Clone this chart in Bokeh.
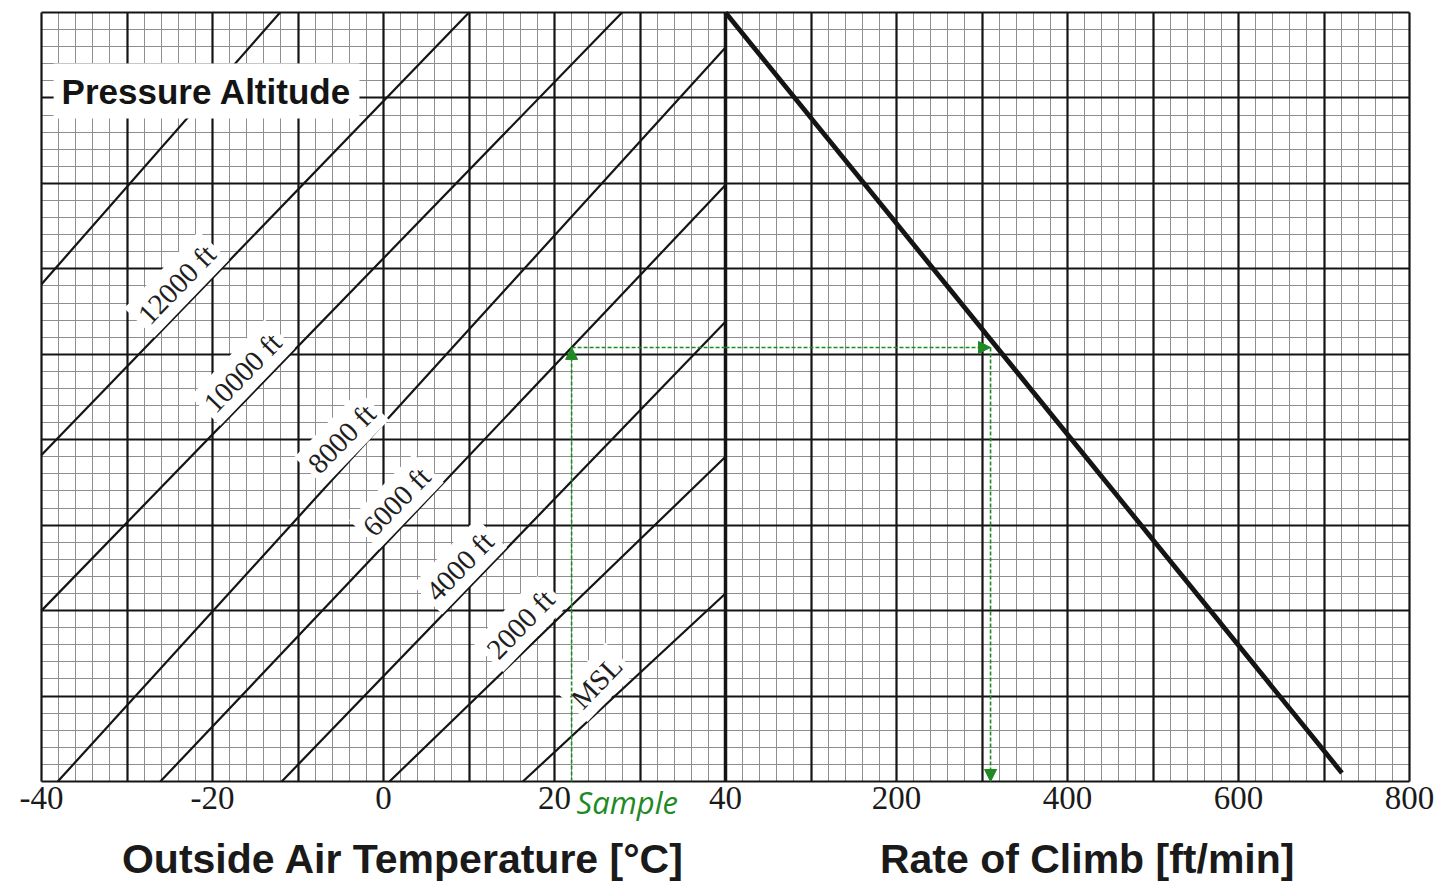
from bokeh.plotting import figure
from bokeh.models import Range1d, FixedTicker, Grid, Label, Arrow, NormalHead
from bokeh.embed import file_html
from bokeh.resources import INLINE

# ---------------- data ----------------
# Pressure-altitude lines: temperature [°C] vs. chart row (0..9, unlabeled vertical scale)
alt_names = ["14000 ft", "12000 ft", "10000 ft", "8000 ft", "6000 ft", "4000 ft", "2000 ft", "MSL"]
alt_show_label = [False, True, True, True, True, True, True, True]
alt_t0 = [-40.0, -40.0, -40.0, -38.1, -26.1, -11.9, 0.7, 16.3]
alt_r0 = [5.82, 3.82, 2.00, 0.00, 0.00, 0.00, 0.00, 0.00]
alt_t1 = [-12.1, 10.0, 27.9, 40.0, 40.0, 40.0, 40.0, 40.0]
alt_r1 = [9.00, 9.00, 9.00, 8.59, 6.98, 5.38, 3.80, 2.20]

# Rate-of-climb reference line (ft/min vs. row)
roc_line_roc = [0, 721]
roc_line_row = [9.0, 0.1]

# Worked sample
sample_temp = 22.0
sample_row = 5.08
sample_roc = 310.0

temp_ticks = [-40, -20, 0, 20, 40]
roc_ticks = [200, 400, 600, 800]
n_rows = 9

# ---------------- layout / style ----------------
W, H = 1439, 881
CH_L, CH_R, CH_T, CH_B = 41, 1409, 12, 781          # chart box in pixels
t_lo, t_hi = temp_ticks[0], temp_ticks[-1] + roc_ticks[-1] / 10.0   # -40 .. 120 (shared scale)
u_per_px = (t_hi - t_lo) / (CH_R - CH_L)
r_per_px = n_rows / (CH_B - CH_T)
x_start = t_lo - CH_L * u_per_px
x_end = t_hi + (W - CH_R) * u_per_px
y_start = -(H - CH_B) * r_per_px
y_end = n_rows + CH_T * r_per_px

GREEN = "#1f8a24"
INK = "#141414"
MINOR = "#8e8e8e"
label_temps = [None, -24.2, -16.5, -4.9, 1.5, 8.9, 16.0, 24.9]  # where each label sits along its line

p = figure(width=W, height=H,
           x_range=Range1d(x_start, x_end), y_range=Range1d(y_start, y_end),
           output_backend="svg", toolbar_location=None,
           x_axis_location=None, y_axis_location=None,
           min_border=0)
p.title.visible = False
p.background_fill_color = "white"
p.border_fill_color = "white"
p.outline_line_color = None
p.extra_x_ranges = {"roc": Range1d((x_start - temp_ticks[-1]) * 10, (x_end - temp_ticks[-1]) * 10)}

p.center = [r for r in p.center if not isinstance(r, Grid)]

temp_major = list(range(-40, 40, 10))
temp_minor = [t for t in range(-38, 40, 2) if t % 10 != 0]
roc_major = list(range(100, 900, 100))
roc_minor = [r for r in range(20, 800, 20) if r % 100 != 0]
row_major = list(range(0, n_rows + 1))
row_minor = [i / 5 for i in range(1, n_rows * 5) if i % 5 != 0]

ybounds = (0, n_rows)
xbounds = (t_lo, t_hi)
specs = [(0, temp_minor, "default", ybounds), (0, roc_minor, "roc", ybounds), (1, row_minor, "default", xbounds)]
for dim, ticks, rname, cb in specs:
    g = Grid(dimension=dim, ticker=FixedTicker(ticks=[], minor_ticks=ticks),
             grid_line_color=None, minor_grid_line_color=MINOR, minor_grid_line_width=1,
             cross_bounds=cb, x_range_name=rname)
    p.add_layout(g)
specs = [(0, temp_major, "default", ybounds), (0, roc_major, "roc", ybounds), (1, row_major, "default", xbounds)]
for dim, ticks, rname, cb in specs:
    g = Grid(dimension=dim, ticker=FixedTicker(ticks=ticks),
             grid_line_color=INK, grid_line_width=2.2, minor_grid_line_color=None,
             cross_bounds=cb, x_range_name=rname)
    p.add_layout(g)

# altitude lines
p.segment(x0=alt_t0, y0=alt_r0, x1=alt_t1, y1=alt_r1, line_color=INK, line_width=2.2)
# panel divider at 40 °C
p.segment(x0=[temp_ticks[-1]], y0=[0], x1=[temp_ticks[-1]], y1=[n_rows], line_color=INK, line_width=3.5)
# rate of climb line
p.line(roc_line_roc, roc_line_row, x_range_name="roc", line_color=INK, line_width=4.8)

# altitude labels
for i, name in enumerate(alt_names):
    if not alt_show_label[i]:
        continue
    t = label_temps[i]
    r = alt_r0[i] + (t - alt_t0[i]) * (alt_r1[i] - alt_r0[i]) / (alt_t1[i] - alt_t0[i])
    p.add_layout(Label(x=t, y=r, y_offset=31, text=name, angle=46, angle_units="deg",
                       text_align="center", text_baseline="middle",
                       text_font="Liberation Serif", text_font_size="29px", text_color="#1e1e1e",
                       background_fill_color="white", padding=5))

p.add_layout(Label(x=-20.7, y=8.08, text="Pressure Altitude", text_align="center",
                   text_baseline="middle", text_font="Liberation Sans", text_font_style="bold",
                   text_font_size="35px", text_color=INK,
                   background_fill_color="white", padding=8))

# sample path
def head():
    return NormalHead(size=12, fill_color=GREEN, line_color=GREEN)

p.add_layout(Arrow(x_start=sample_temp, y_start=0, x_end=sample_temp, y_end=sample_row,
                   line_color=GREEN, line_width=1.6, line_dash="4 2", end=head()))
p.segment(x0=[sample_temp], y0=[sample_row], x1=[temp_ticks[-1]], y1=[sample_row],
          line_color=GREEN, line_width=1.6, line_dash="4 2")
p.add_layout(Arrow(x_start=0, y_start=sample_row, x_end=sample_roc, y_end=sample_row,
                   x_range_name="roc", line_color=GREEN, line_width=1.6, line_dash="4 2", end=head()))
p.add_layout(Arrow(x_start=sample_roc, y_start=sample_row, x_end=sample_roc, y_end=0,
                   x_range_name="roc", line_color=GREEN, line_width=1.6, line_dash="4 2", end=head()))

# tick labels
for t in temp_ticks:
    p.add_layout(Label(x=t, y=0, y_offset=-5, text=str(t), text_align="center", text_baseline="top",
                       text_font="Liberation Serif", text_font_size="33px", text_color="#1a1a1a"))
for r in roc_ticks:
    p.add_layout(Label(x=r, y=0, x_range_name="roc", y_offset=-5, text=str(r),
                       text_align="center", text_baseline="top",
                       text_font="Liberation Serif", text_font_size="33px", text_color="#1a1a1a"))

p.add_layout(Label(x=sample_temp, y=0, x_offset=5, y_offset=1, text="Sample",
                   text_align="left", text_baseline="top",
                   text_font="Open Sans", text_font_style="italic", text_font_size="31px",
                   text_color=GREEN))

# axis titles
p.add_layout(Label(x=2.3, y=0, y_offset=-54, text="Outside Air Temperature [°C]",
                   text_align="center", text_baseline="top",
                   text_font="Liberation Sans", text_font_style="bold", text_font_size="41px",
                   text_color="#1a1a1a"))
p.add_layout(Label(x=423, y=0, x_range_name="roc", y_offset=-54, text="Rate of Climb [ft/min]",
                   text_align="center", text_baseline="top",
                   text_font="Liberation Sans", text_font_style="bold", text_font_size="41px",
                   text_color="#1a1a1a"))

open("out.html", "w").write(file_html(p, INLINE))
